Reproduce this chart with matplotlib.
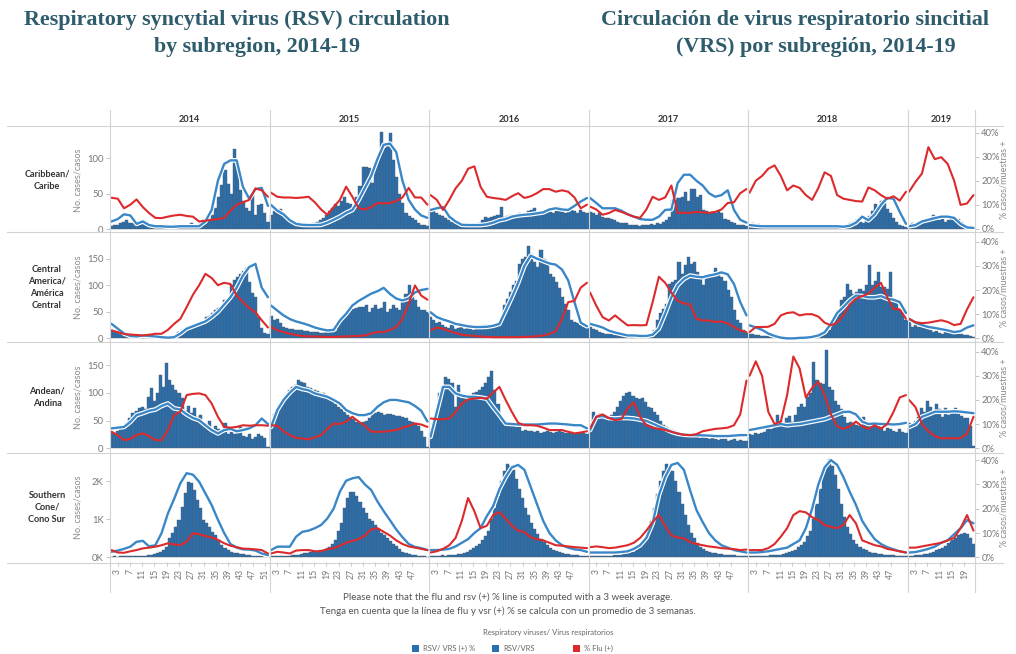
import numpy as np
import matplotlib
matplotlib.use("Agg")
import matplotlib.pyplot as plt
from matplotlib.lines import Line2D
from matplotlib.patches import Rectangle

# ---------------- data ----------------
years = ["2014", "2015", "2016", "2017", "2018", "2019"]
weeks_per_year = [52, 52, 52, 52, 52, 22]
line_pts_per_year = [26, 26, 26, 26, 26, 11]

regions = ["Caribbean/\nCaribe", "Central\nAmerica/\nAmérica\nCentral",
           "Andean/\nAndina", "Southern\nCone/\nCono Sur"]

# Caribbean: weekly RSV cases, 3-week RSV % positive, 3-week Flu % positive (every 2 weeks)
car_cases = [
    4, 6, 5, 8, 10, 12, 9, 8, 7, 6, 8, 5, 6, 4, 5, 6, 5, 4, 6, 3, 4, 5, 3, 4, 5, 6, 8, 5, 6, 9, 12, 15, 14, 20, 30, 45, 62, 83, 64, 50, 113, 87, 55, 40, 30, 25, 50, 20, 34, 35, 22, 10,
    20, 25, 22, 28, 18, 15, 12, 10, 8, 6, 5, 6, 5, 7, 8, 10, 12, 15, 20, 25, 30, 35, 32, 40, 45, 37, 35, 30, 45, 60, 87, 88, 86, 65, 93, 100, 137, 114, 121, 135, 97, 73, 50, 37, 22, 18, 15, 12, 8, 6, 5, 4,
    27, 25, 22, 20, 18, 15, 12, 10, 8, 7, 5, 5, 4, 5, 6, 7, 8, 12, 17, 15, 17, 18, 20, 31, 17, 18, 20, 17, 19, 22, 20, 18, 25, 27, 30, 20, 22, 25, 27, 24, 22, 25, 31, 27, 22, 24, 27, 25, 22, 27, 24, 22,
    24, 22, 20, 22, 17, 16, 15, 14, 12, 10, 9, 8, 8, 6, 5, 5, 4, 5, 5, 6, 7, 6, 8, 7, 10, 12, 17, 41, 45, 44, 45, 52, 40, 56, 57, 45, 48, 27, 25, 22, 24, 22, 25, 22, 14, 12, 10, 8, 6, 5, 5, 4,
    6, 8, 5, 7, 5, 4, 6, 5, 3, 4, 3, 5, 4, 3, 4, 2, 3, 4, 3, 5, 4, 3, 5, 6, 4, 5, 3, 4, 6, 5, 4, 5, 5, 8, 10, 12, 10, 8, 12, 18, 25, 35, 30, 40, 37, 28, 22, 15, 10, 6, 4, 3,
    5, 8, 6, 10, 8, 12, 10, 13, 20, 15, 12, 14, 10, 12, 17, 16, 14, 10, 6, 4, 3, 2,
]
car_rsv = [
    3, 4, 6, 5.5, 2, 3, 1.5, 1, 1, 0.8, 0.8, 1, 1, 1, 1, 3, 7.8, 20, 27, 28.5, 28.5, 17.4, 12.5, 16.5, 17, 9.5,
    9.9, 7.5, 6, 3.5, 2, 1.6, 1.5, 1.5, 1.6, 2.5, 3.7, 5, 6.6, 7.8, 12, 17, 22, 29, 35, 35.5, 32, 20, 12, 8, 5.5, 4.5,
    7.8, 8.5, 9, 5, 3, 1.6, 1.5, 1.5, 1.5, 1.8, 2.5, 3.5, 4, 5, 5.5, 5.8, 6, 6.4, 6.8, 8, 8.5, 8, 7.8, 9.5, 11.3, 12.8,
    12.8, 10.7, 8.5, 8.5, 8.5, 7.5, 6, 5, 4, 3.7, 3.7, 5, 7.8, 8, 19, 22.5, 22.5, 20, 18, 14.8, 13.3, 14, 16, 7.8, 3.7, 2.5,
    1.5, 1.2, 1, 1, 1, 1, 1, 1, 1, 1, 1, 1, 1, 1, 1, 0.8, 1.2, 2.5, 5, 3.5, 6, 9.9, 12.8, 12.5, 7, 2,
    1, 1.5, 3, 3.7, 4.4, 5, 5, 4.5, 2, 0.5, 0.3,
]
car_flu = [
    12.9, 12.5, 8.5, 10, 12.2, 9, 6.5, 4.5, 4.4, 5, 5.5, 5.8, 5.3, 5, 3, 3.3, 3.7, 4, 4.5, 7.5, 10, 11, 12, 16.8, 16, 13.3,
    15, 13.3, 13, 13, 12.8, 13, 13.3, 11, 8, 5.8, 9, 12, 17.5, 13.3, 8.5, 8, 9, 10.7, 10.5, 10.7, 11.5, 13, 17, 13, 13, 10,
    14, 12, 7.8, 12, 16.8, 20, 25, 26, 17.4, 13.3, 12.8, 12.5, 12, 13.5, 14.8, 12.8, 13.5, 14.8, 16.5, 16.5, 15.4, 16, 15.4, 13, 8.5, 10,
    9.2, 8, 5.8, 6.5, 7.8, 7, 6, 5, 4.5, 8, 13.3, 12, 13, 18, 6.6, 6.6, 6.6, 7, 6.8, 6.6, 7, 8, 10.7, 11, 14.8, 16.5,
    15, 20, 22, 25, 26.4, 22, 16, 18, 17, 14, 12, 17, 23.5, 22, 14, 12.5, 12, 11.5, 11.3, 17.2, 16, 14, 12.5, 13.5, 11.7, 15.4,
    15.4, 19.5, 23, 34, 29, 29.8, 27, 20, 9.9, 10.5, 14,
]

# Central America
cam_cases = [
    15, 12, 10, 8, 9, 6, 5, 4, 6, 3, 4, 5, 4, 6, 3, 5, 4, 3, 2, 1, 2, 5, 12, 15, 18, 20, 22, 25, 24, 28, 30, 40, 42, 47, 53, 57, 60, 72, 75, 100, 110, 116, 122, 128, 132, 106, 85, 78, 40, 20, 10, 8,
    43, 34, 37, 28, 22, 20, 18, 17, 16, 15, 15, 14, 13, 12, 12, 11, 10, 10, 12, 13, 15, 14, 28, 35, 40, 45, 53, 55, 57, 59, 60, 62, 50, 58, 62, 55, 57, 68, 50, 55, 62, 58, 53, 72, 84, 100, 85, 72, 59, 53, 53, 50,
    40, 35, 28, 30, 25, 22, 20, 25, 18, 20, 22, 18, 25, 20, 15, 18, 22, 20, 25, 20, 22, 25, 28, 34, 62, 75, 87, 100, 109, 141, 150, 153, 175, 160, 144, 134, 166, 150, 140, 122, 115, 106, 95, 78, 65, 53, 34, 30, 28, 25, 22, 20,
    21, 18, 15, 12, 10, 9, 8, 8, 7, 6, 5, 5, 4, 4, 3, 3, 3, 4, 4, 5, 8, 15, 34, 47, 55, 65, 103, 106, 110, 144, 122, 138, 153, 140, 144, 125, 113, 100, 119, 115, 122, 132, 120, 115, 109, 91, 78, 53, 34, 28, 15, 10,
    9, 8, 7, 6, 5, 4, 4, 3, 3, 3, 2, 2, 2, 1, 1, 1, 2, 2, 1, 2, 2, 3, 3, 4, 6, 10, 15, 28, 40, 53, 72, 78, 103, 91, 84, 88, 94, 90, 100, 138, 100, 109, 125, 97, 97, 94, 125, 72, 70, 53, 50, 34,
    34, 21, 25, 22, 28, 24, 21, 15, 12, 14, 10, 9, 12, 11, 10, 13, 9, 8, 6, 7, 4, 2,
]
cam_rsv = [
    6, 4, 2, 1, 0.8, 1.2, 1, 0.8, 0.5, 0.3, 0.5, 2, 4, 5, 6, 7, 8.8, 11, 14, 17, 21, 26, 29.5, 30.8, 21, 17,
    13.6, 11.5, 9.5, 8, 7, 6.3, 5.5, 4.5, 3.8, 3.3, 3.5, 7.4, 10.2, 13.6, 15.5, 17, 18.5, 19.5, 20.9, 18.4, 16.5, 15.7, 16.5, 19, 20, 20.5,
    10.8, 8.8, 7.8, 7, 6, 5.5, 5, 4.7, 4.7, 4.8, 5.2, 6, 11.5, 17, 23, 30, 34.2, 33, 32, 31, 30.5, 28.5, 24, 15, 6.5, 5,
    6, 5.3, 4.5, 3.2, 2.4, 1.8, 1.2, 1.2, 1, 1, 1.5, 4, 10.2, 17, 22, 24.6, 26, 25.5, 25.3, 26, 26.5, 27.3, 26.5, 22.5, 15, 9.5,
    5.4, 4.5, 3.5, 2, 1, 0.3, 0, 0, 0.2, 0.3, 0.6, 1.2, 2.5, 6, 10.5, 13, 15.7, 17.7, 17.5, 17, 17, 17.5, 16.4, 16, 15, 10.5,
    8.1, 6.5, 5.5, 4.7, 4.3, 3.8, 3.3, 2.6, 3, 4.5, 5.4,
]
cam_flu = [
    3.3, 2.6, 1.8, 1.6, 1.4, 1.2, 1.5, 1.9, 1.9, 3.5, 6, 8.1, 12.9, 18, 22, 26.7, 25, 22, 23, 22.5, 17.7, 15, 12.5, 10.8, 7.5, 4.5,
    4.7, 3.3, 2.6, 1.9, 1.4, 1, 0.8, 0.8, 0.7, 0.6, 0.6, 0.7, 0.8, 0.9, 1, 1.2, 2, 2.6, 2.6, 3.5, 4.7, 8.1, 14.3, 21.9, 17.7, 16,
    3.3, 4.5, 4, 3, 2.2, 1.5, 1.2, 1, 0.8, 0.6, 0.5, 0.5, 0.5, 0.5, 0.5, 0.6, 0.7, 0.9, 1.2, 1.8, 3, 8, 15, 15.5, 21, 23,
    19, 13.5, 8.8, 7.4, 9.5, 7.4, 5.4, 5.5, 5.4, 5.5, 15, 25.5, 23, 19, 15.5, 14.5, 14, 8.1, 7.4, 7.4, 6.8, 7, 6.2, 4.7, 3.3, 2.6,
    2.6, 4.7, 4.7, 4.8, 6, 9.5, 10.5, 10.8, 9.5, 10, 10, 9, 6.5, 5.4, 6.5, 9.5, 14, 16.4, 17.5, 18.5, 21, 23, 17, 12.2, 12, 8.1,
    8.1, 6.7, 6.3, 6.5, 7, 7.5, 6.8, 5.5, 6, 12, 17,
]

# Andean
and_cases = [
    30, 25, 32, 38, 40, 45, 55, 63, 68, 72, 74, 70, 92, 108, 85, 99, 132, 110, 153, 123, 114, 105, 99, 90, 68, 77, 63, 72, 56, 60, 45, 38, 50, 32, 40, 35, 28, 45, 26, 30, 26, 28, 38, 22, 20, 25, 17, 20, 25, 22, 18, 2,
    38, 62, 70, 80, 88, 92, 105, 110, 114, 123, 120, 118, 110, 108, 105, 103, 100, 99, 95, 92, 86, 80, 74, 70, 65, 60, 56, 52, 48, 45, 48, 50, 55, 62, 64, 65, 63, 60, 62, 61, 60, 59, 58, 56, 54, 50, 47, 45, 40, 32, 20, 2,
    26, 45, 68, 99, 110, 128, 125, 117, 74, 114, 90, 92, 95, 90, 100, 102, 105, 110, 118, 128, 140, 105, 80, 50, 45, 42, 40, 40, 38, 38, 32, 33, 32, 32, 30, 32, 28, 30, 32, 30, 28, 30, 32, 30, 28, 27, 30, 28, 26, 28, 27, 25,
    38, 65, 59, 62, 60, 58, 56, 60, 65, 74, 86, 95, 99, 101, 95, 90, 88, 90, 83, 74, 72, 65, 60, 50, 42, 38, 35, 33, 32, 28, 26, 25, 24, 22, 20, 20, 18, 20, 18, 16, 18, 16, 15, 17, 16, 14, 15, 16, 14, 15, 14, 14,
    26, 24, 28, 25, 27, 30, 38, 35, 45, 60, 50, 45, 55, 58, 48, 60, 74, 80, 74, 92, 99, 155, 123, 118, 115, 177, 110, 105, 86, 78, 70, 56, 45, 48, 45, 42, 40, 56, 42, 40, 44, 42, 40, 38, 32, 36, 35, 32, 30, 34, 30, 28,
    45, 38, 50, 56, 72, 66, 86, 75, 68, 80, 70, 56, 72, 60, 67, 72, 65, 58, 54, 55, 40, 5,
]
and_rsv = [
    8.2, 8.5, 8.8, 10.9, 13.7, 14.5, 15.5, 16, 17.5, 18.5, 16.5, 16, 14, 12.5, 11.6, 9.5, 7.5, 6.1, 7.5, 8, 7, 7.5, 8.2, 9.5, 12.3, 10,
    8.8, 15.8, 20, 23, 25.4, 24.5, 24, 22.7, 22, 21.3, 20, 18.5, 15.8, 14.5, 13.7, 13.7, 14.5, 17.1, 19, 20, 20, 19.5, 19, 17.5, 15.5, 11,
    4.7, 15, 25.4, 25.4, 22.7, 21.8, 21.3, 21.3, 21, 20.5, 17, 13.7, 10.2, 10, 9.8, 9.8, 9.8, 9.8, 10, 10.2, 10.2, 10, 9.8, 9.5, 9.5, 8.2,
    7.5, 13, 13.3, 12.5, 12.3, 12.5, 12.5, 12.3, 11.8, 11.3, 10.2, 9, 8, 6.8, 6, 5.6, 5.4, 5.4, 5.3, 5.2, 5, 5, 5, 5.2, 5.4, 5.4,
    7.5, 8, 8.5, 9, 9.5, 10, 9.5, 9.8, 10, 10.5, 11, 11.5, 12, 13, 14, 15, 15.1, 14, 11, 10, 10.2, 10, 10, 9.8, 10, 10.5,
    8.8, 10, 13, 14, 15.1, 15.1, 15.1, 15.3, 15.1, 14.8, 14.5,
]
and_flu = [
    6.8, 5.4, 3.3, 3.8, 5.5, 6.1, 5, 3.3, 3.3, 7.5, 13.7, 15.1, 22, 22.5, 22.7, 22, 18.5, 13, 8.8, 8.5, 8.8, 9.5, 9.3, 9.5, 9.5, 9.3,
    9.5, 9.3, 7, 5.4, 4.3, 4, 3.6, 4.5, 5.4, 8, 10.2, 10, 11, 13, 11, 9.3, 6.8, 6.8, 6.8, 7.2, 7.5, 8.5, 9.2, 10.2, 9.8, 8.8,
    12.3, 12, 12, 12.3, 15, 18.5, 20.2, 20.6, 20.8, 20.5, 23, 25.4, 20, 15, 10.5, 9.5, 9.5, 9.3, 8.5, 7.5, 7.5, 7.5, 6.8, 6.1, 6.5, 7,
    8.2, 13, 14, 12.5, 11.6, 12, 16.5, 19, 13, 9.5, 8.5, 8, 7.5, 6.8, 6.1, 5.5, 5.4, 5.8, 7, 7.5, 8, 8.2, 8.5, 9.5, 14, 28,
    30, 36, 30, 15, 10, 11, 22, 38, 33, 21, 25, 27.5, 22, 14, 9, 8, 9, 11, 9, 8, 9.5, 8, 10, 15, 21, 22,
    20, 17, 10, 7, 5, 4, 4.2, 4, 4.2, 6, 13,
]

# Southern Cone
sc_cases = [
    20, 25, 20, 30, 25, 30, 35, 30, 40, 45, 40, 45, 50, 60, 80, 110, 150, 190, 280, 500, 630, 800, 980, 1330, 1680, 1980, 1940, 1760, 1500, 1280, 980, 900, 800, 670, 580, 450, 320, 235, 190, 150, 120, 100, 90, 80, 60, 50, 40, 30, 30, 25, 20, 20,
    30, 35, 30, 40, 35, 45, 40, 50, 60, 70, 90, 100, 120, 150, 170, 160, 180, 200, 230, 280, 350, 450, 700, 900, 1290, 1550, 1700, 1720, 1600, 1450, 1300, 1150, 1000, 950, 850, 750, 650, 580, 500, 420, 350, 300, 220, 150, 100, 80, 60, 50, 40, 30, 25, 20,
    30, 30, 40, 35, 50, 45, 60, 55, 70, 80, 90, 110, 150, 200, 250, 300, 350, 450, 550, 700, 1000, 1300, 1600, 2000, 2250, 2450, 2400, 2300, 2050, 1800, 1550, 1300, 1100, 900, 750, 600, 480, 400, 320, 250, 200, 160, 130, 110, 90, 80, 70, 60, 50, 40, 30, 30,
    40, 35, 30, 30, 40, 35, 40, 45, 50, 60, 70, 80, 100, 120, 150, 200, 260, 350, 500, 700, 950, 1300, 1650, 2000, 2250, 2450, 2400, 2250, 2000, 1700, 1400, 1100, 850, 650, 500, 380, 280, 220, 170, 140, 120, 100, 90, 80, 70, 60, 55, 50, 45, 40, 35, 30,
    30, 35, 30, 40, 35, 40, 45, 50, 55, 60, 70, 80, 100, 130, 160, 200, 260, 330, 400, 550, 700, 1000, 1400, 1800, 2200, 2450, 2580, 2400, 2150, 1800, 1400, 1050, 800, 600, 450, 350, 280, 220, 180, 150, 120, 100, 90, 80, 70, 60, 55, 50, 40, 35, 30, 30,
    40, 45, 50, 60, 70, 80, 90, 110, 150, 180, 220, 250, 300, 380, 450, 500, 580, 620, 650, 600, 500, 350,
]
sc_rsv = [
    2.3, 2.8, 3.5, 4.4, 6.4, 6.8, 4.5, 5, 10, 18, 24, 30.5, 34.6, 34, 31.1, 26.3, 21.5, 15.5, 10, 5.5, 4, 3.3, 3.2, 2.8, 1.6, 0.9,
    3, 4.4, 4.4, 4.4, 8.5, 10.5, 11, 12, 13.3, 16, 20, 27, 31.5, 32.5, 33, 30, 27.7, 23, 19, 15.3, 11.5, 8.3, 5.5, 4.3, 3.8, 3,
    3, 3, 3.2, 3.5, 4.5, 6, 7.5, 10, 12, 17, 21, 28, 33, 37, 38, 36, 29, 22, 15, 10, 7, 5, 4, 3.3, 3, 2.3,
    2, 2, 2, 2, 2, 2.2, 2.5, 3.5, 5, 8, 14, 25.6, 33, 38, 38.8, 36, 27.5, 19.5, 14.5, 10, 7, 5, 4, 3, 2.5, 2,
    2, 2, 2.2, 2.5, 3, 3.5, 4, 5.5, 7, 12, 20, 30, 37, 40, 38, 33, 27, 21.6, 15, 11, 7.5, 5.5, 4.2, 3.3, 2.5, 2,
    2, 2.2, 2.8, 3.5, 4.4, 6, 7, 9.5, 12, 15.3, 14,
]
sc_flu = [
    3, 2, 1.9, 2.5, 3, 3.7, 4, 4.4, 5, 5.8, 5.3, 5.1, 6.4, 9.9, 9.5, 8.8, 8.2, 7.2, 5.8, 4.8, 4.2, 3.6, 3.5, 3.3, 3, 1.6,
    1.6, 2.3, 2, 1.6, 2.8, 3, 3, 2.5, 2.5, 3.5, 3.7, 4.8, 6, 6.8, 7.5, 9, 11.5, 12, 10.5, 9, 7, 5.5, 4.5, 4, 3.5, 3,
    2, 2.5, 3.5, 5, 8, 15, 24.4, 19, 12, 13, 17.4, 18.6, 16, 13, 11, 10.4, 8.3, 7.5, 7, 6, 5, 4.8, 4.5, 4.2, 4, 3.8,
    4.2, 4.5, 4.2, 3.8, 4, 4.5, 5, 6, 8, 11, 14.5, 17.4, 13, 9, 8.2, 7.8, 6.3, 5.5, 5, 4.5, 4.2, 3.8, 3.6, 3.4, 3, 3.2,
    3, 3, 3, 3.8, 5.5, 8.5, 12, 17.4, 19, 18.5, 16.5, 15.3, 13.3, 12.5, 12, 13.3, 17.4, 14, 7, 6, 5, 4.5, 3.5, 3, 2.5, 2,
    4, 4, 4.5, 5, 5.5, 6, 7, 8, 12, 17.4, 11,
]

left_ticks = [[0, 50, 100], [0, 50, 100, 150], [0, 50, 100, 150], [0, 1000, 2000]]
left_ticklabels = [["0", "50", "100"], ["0", "50", "100", "150"],
                   ["0", "50", "100", "150"], ["0K", "1K", "2K"]]
right_ticks = [0, 10, 20, 30, 40]
right_ticklabels = ["0%", "10%", "20%", "30%", "40%"]

# ---------------- style ----------------
BAR = "#2a6fae"
BLUE = "#3a87c8"
RED = "#dc2a2c"
TITLE = "#2e5c6c"
GRID = "#d3d3d3"
TXT = "#777777"
FONT = "Lato"

W, H = 1016, 654
fig = plt.figure(figsize=(W / 100, H / 100), dpi=100)
fig.patch.set_facecolor("white")


def fx(px):
    return px / W


def fy(py):
    return 1 - py / H


X0, X1 = 110, 975
rows_px = [(128, 232), (233, 342), (343, 452), (453, 562)]
ylims_left = [(-4.2, 142.3), (-7.0, 199.0), (-6.7, 189.7), (-123, 2734)]
ylims_right = [(-1.4, 42.0), (-1.5, 43.6), (-1.6, 43.6), (-1.9, 42.9)]

offsets = np.concatenate([[0], np.cumsum(weeks_per_year)])
total_weeks = offsets[-1]

series = [(car_cases, car_rsv, car_flu), (cam_cases, cam_rsv, cam_flu),
          (and_cases, and_rsv, and_flu), (sc_cases, sc_rsv, sc_flu)]

bar_x = np.concatenate([offsets[i] + np.arange(n) + 0.5 for i, n in enumerate(weeks_per_year)])

for r, ((top, bot), (cases, rsv, flu)) in enumerate(zip(rows_px, series)):
    ax = fig.add_axes([fx(X0), fy(bot), fx(X1) - fx(X0), (bot - top) / H])
    ax.set_xlim(0, total_weeks)
    ax.set_ylim(*ylims_left[r])
    ax.bar(bar_x, cases, width=1.0, color=BAR, edgecolor="#4f5a66", linewidth=0.3, zorder=2)
    for s in ax.spines.values():
        s.set_visible(False)
    ax.set_yticks(left_ticks[r])
    ax.set_yticklabels(left_ticklabels[r], fontsize=6.8, color=TXT, family=FONT)
    ax.tick_params(axis="y", length=3, width=0.6, color="#bbbbbb", pad=1.5)

    if r < 3:
        ax.set_xticks([])
    else:
        xt, xlab = [], []
        for i, n in enumerate(weeks_per_year):
            last = 51 if i == 0 else 47
            for w in range(3, min(n, last) + 1, 4):
                xt.append(offsets[i] + w - 0.5)
                xlab.append(str(w))
        ax.set_xticks(xt)
        ax.set_xticklabels(xlab, rotation=90, fontsize=6.3, color=TXT, family=FONT)
        ax.tick_params(axis="x", length=3, width=0.6, color="#bbbbbb", pad=2)

    ax2 = ax.twinx()
    ax2.set_ylim(*ylims_right[r])
    for s in ax2.spines.values():
        s.set_visible(False)
    p = 0
    for i, (n, k) in enumerate(zip(weeks_per_year, line_pts_per_year)):
        xl = offsets[i] + np.linspace(0.5, n - 0.5, k)
        yr = rsv[p:p + k]
        yf = flu[p:p + k]
        p += k
        ax2.plot(xl, yr, color="white", lw=3.4, solid_capstyle="round", zorder=3)
        ax2.plot(xl, yr, color=BLUE, lw=1.7, solid_capstyle="round", zorder=4)
        ax2.plot(xl, yf, color=RED, lw=1.5, solid_capstyle="round", zorder=5)
    ax2.set_yticks(right_ticks)
    ax2.set_yticklabels(right_ticklabels, fontsize=6.8, color=TXT, family=FONT)
    ax2.tick_params(axis="y", length=3, width=0.6, color="#bbbbbb", pad=1.5)

    cy = (top + bot) / 2
    fig.text(fx(47), fy(cy), regions[r], ha="center", va="center", fontsize=6.6,
             weight="bold", color="#333333", family=FONT, linespacing=1.45)
    fig.text(fx(78), fy(cy), "No. cases/casos", ha="center", va="center", rotation=90,
             fontsize=6.5, color="#8a8a8a", family=FONT)
    fig.text(fx(1004), fy(cy), "% casos/muestras +", ha="center", va="center", rotation=90,
             fontsize=6.5, color="#8a8a8a", family=FONT)

# separators
for yy in [126, 232.5, 342.5, 452.5, 562.5]:
    fig.add_artist(Line2D([fx(7), fx(1003)], [fy(yy), fy(yy)], color=GRID, lw=0.8, zorder=10))
for o in offsets:
    xpx = X0 + o / total_weeks * (X1 - X0)
    fig.add_artist(Line2D([fx(xpx), fx(xpx)], [fy(110), fy(592)], color=GRID, lw=0.8, zorder=10))

# year headers
for i, yname in enumerate(years):
    cx = X0 + (offsets[i] + offsets[i + 1]) / 2 / total_weeks * (X1 - X0)
    fig.text(fx(cx), fy(119), yname, ha="center", va="center", fontsize=6.6,
             weight="bold", color="#333333", family=FONT)

# titles
tkw = dict(ha="center", va="center", fontsize=15.8, weight="bold", color=TITLE,
           family="Liberation Serif")
fig.text(fx(237), fy(20), "Respiratory syncytial virus (RSV) circulation", **tkw)
fig.text(fx(257), fy(47), "by subregion, 2014-19", **tkw)
fig.text(fx(795), fy(20), "Circulación de virus respiratorio sincitial", **tkw)
fig.text(fx(816), fy(47), "(VRS) por subregión, 2014-19", **tkw)

# notes
fig.text(fx(508), fy(597), "Please note that the flu and rsv (+) % line is computed with a 3 week average.",
         ha="center", va="center", fontsize=7.0, color="#555555", family=FONT)
fig.text(fx(508), fy(611), "Tenga en cuenta que la línea de flu y vsr (+) % se calcula con un promedio de 3 semanas.",
         ha="center", va="center", fontsize=7.0, color="#555555", family=FONT)

# legend
fig.text(fx(548), fy(633), "Respiratory viruses/ Virus respiratorios", ha="center", va="center",
         fontsize=5.5, color="#666666", family=FONT)
leg_items = [(412, BAR, "RSV/ VRS (+) %"), (492, BAR, "RSV/VRS"), (573, RED, "% Flu (+)")]
for xpx, col, lab in leg_items:
    fig.add_artist(Rectangle((fx(xpx), fy(652)), 7 / W, 7 / H, facecolor=col,
                             edgecolor="none", transform=fig.transFigure))
    fig.text(fx(xpx + 11), fy(648.5), lab, ha="left", va="center", fontsize=5.5,
             color="#666666", family=FONT)

fig.savefig("out.png", dpi=100, facecolor="white")
